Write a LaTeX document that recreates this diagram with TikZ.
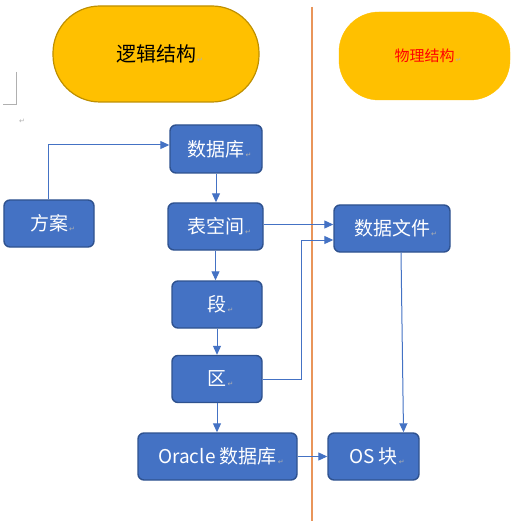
\documentclass[tikz,border=0pt]{standalone}
\usepackage{fontspec}
\setmainfont{Noto Sans CJK SC}
\newfontfamily\dvfont{DejaVu Sans}
\usetikzlibrary{arrows.meta,calc}
\definecolor{boxblue}{HTML}{4472C4}
\definecolor{boxedge}{HTML}{2F528F}
\definecolor{gold}{HTML}{FFC000}
\definecolor{goldedge}{HTML}{BF9000}
\definecolor{orangeline}{HTML}{E9955A}
\definecolor{markgray}{HTML}{B0B0B0}
\newcommand{\pmark}{\rlap{\hspace{1bp}\raisebox{-1bp}{\dvfont\fontsize{7bp}{8bp}\selectfont\color{markgray}↵}}}
\tikzset{
  blk/.style={rectangle, rounded corners=6bp, fill=boxblue, draw=boxedge, line width=1.4bp,
    text=white, font=\fontsize{19bp}{21bp}\selectfont, minimum height=47bp, inner sep=2bp},
  conn/.style={draw=boxblue, line width=1bp, -{Triangle[length=9bp,width=8bp]}},
}
\begin{document}
\begin{tikzpicture}[x=1bp,y=-1bp]
\useasboundingbox (0,0) rectangle (523,521);
\fill[white] (0,0) rectangle (523,521);
% word artifacts
\draw[markgray, line width=0.8bp] (16,72) -- (16,104) -- (3,104);
\node[inner sep=0pt, text=markgray, font=\dvfont\fontsize{7bp}{8bp}\selectfont] (pm) at (22,121) {↵};
% separator
\draw[orangeline, line width=1.1bp] (312,7) -- (312,521);
% headings
\node[rectangle, rounded corners=47bp, fill=gold, draw=goldedge, line width=1.2bp,
  minimum width=206bp, minimum height=96bp, font=\fontsize{20bp}{22bp}\selectfont] (logic) at (156,54) {逻辑结构\pmark};
\node[rectangle, rounded corners=40bp, fill=gold, draw=gold,
  minimum width=171bp, minimum height=88bp, text=red, font=\fontsize{15bp}{17bp}\selectfont] (phys) at (424.5,56) {物理结构\pmark};
% blocks
\node[blk, minimum width=92bp, minimum height=48bp] (db) at (216,149) {数据库\pmark};
\node[blk, minimum width=90bp] (scheme) at (49,223.5) {方案\pmark};
\node[blk, minimum width=95bp] (ts) at (215.5,226.5) {表空间\pmark};
\node[blk, minimum width=90bp] (seg) at (217,304.5) {段\pmark};
\node[blk, minimum width=90bp] (ext) at (217,379) {区\pmark};
\node[blk, minimum width=159bp] (odb) at (217.5,456.5) {Oracle 数据库\pmark};
\node[blk, minimum width=116bp] (df) at (392,228.5) {数据文件\pmark};
\node[blk, minimum width=91bp] (osb) at (373.5,456.5) {OS 块\pmark};
% connectors
\draw[conn] ([xshift=-1bp]scheme.north) |- ([yshift=4bp]db.west);
\draw[conn] (db.south) -- (db.south |- ts.north);
\draw[conn] (ts.south) -- (ts.south |- seg.north);
\draw[conn] (seg.south) -- (seg.south |- ext.north);
\draw[conn] (ext.south) -- (ext.south |- odb.north);
\draw[conn] ([yshift=2bp]ts.east) -- ([yshift=2bp]ts.east -| df.west);
\draw[conn] (ext.east) -- ++(39,0) |- ([yshift=-11.5bp]df.west);
\draw[conn] ([xshift=9bp]df.south) -- ([xshift=30bp]osb.north);
\draw[conn] (odb.east) -- (osb.west);
\end{tikzpicture}
\end{document}
